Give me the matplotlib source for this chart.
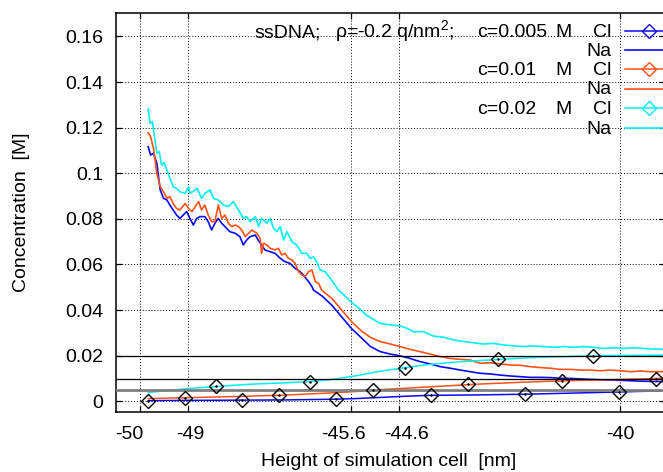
import matplotlib
matplotlib.use("Agg")
import matplotlib.pyplot as plt
from matplotlib.lines import Line2D
from matplotlib.transforms import ScaledTranslation

plt.rcParams['font.family'] = ['Liberation Sans', 'DejaVu Sans']
plt.rcParams['mathtext.fontset'] = 'custom'
plt.rcParams['mathtext.rm'] = 'Liberation Sans'
plt.rcParams['mathtext.it'] = 'Liberation Sans:italic'

# ---------------- data ----------------
x_ticks = [-50, -49, -45.6, -44.6, -40]
x_tick_labels = ['-50', '-49', '-45.6', '-44.6', '-40']
y_ticks = [0, 0.02, 0.04, 0.06, 0.08, 0.10, 0.12, 0.14, 0.16]
y_tick_labels = ['0', '0.02', '0.04', '0.06', '0.08', '0.1', '0.12', '0.14', '0.16']
bulk_conc = [0.005, 0.01, 0.02]
conc_labels = ['c=0.005', 'c=0.01', 'c=0.02']

na_005_x = [-49.83, -49.78, -49.72, -49.65, -49.58, -49.51, -49.44, -49.38, -49.31, -49.24,
            -49.17, -49.10, -49.03, -48.96, -48.89, -48.82, -48.75, -48.65, -48.58, -48.51,
            -48.44, -48.37, -48.30, -48.23, -48.13, -48.02, -47.92, -47.85, -47.78, -47.71,
            -47.60, -47.54, -47.47, -47.40, -47.29, -47.19, -47.08, -46.98, -46.88, -46.77,
            -46.67, -46.60, -46.49, -46.42, -46.39,
            -46.2, -46.0, -45.8, -45.6, -45.4, -45.2,
            -45.0, -44.79, -44.58, -44.38, -44.17, -43.96, -43.75, -43.54, -43.33, -43.13,
            -42.92, -42.71, -42.5, -42.29, -42.08, -41.88, -41.67, -41.46, -41.25,
            -41.0, -40.5, -40.0, -39.5, -39.06]
na_005 = [0.1117, 0.1080, 0.1088, 0.1044, 0.0927, 0.0890, 0.0883, 0.0861, 0.0839, 0.0817,
          0.0802, 0.0817, 0.0832, 0.0802, 0.0773, 0.0802, 0.0810, 0.0810, 0.0788, 0.0751,
          0.0781, 0.0802, 0.0781, 0.0766, 0.0744, 0.0737, 0.0722, 0.0686, 0.0707, 0.0722,
          0.0729, 0.0707, 0.0686, 0.0664, 0.0656, 0.0649, 0.0627, 0.0612, 0.0605, 0.0583,
          0.0569, 0.0554, 0.0525, 0.0503, 0.0488,
          0.046, 0.042, 0.037, 0.032, 0.028, 0.024,
          0.0218, 0.0207, 0.0199, 0.0188, 0.0174, 0.0164, 0.0152, 0.0145, 0.0137, 0.0130,
          0.0123, 0.0120, 0.0115, 0.0111, 0.0108, 0.0105, 0.0105, 0.0104, 0.0101,
          0.0100, 0.0095, 0.0092, 0.0088, 0.0086]

na_01_x = [-49.83, -49.78, -49.72, -49.65, -49.58, -49.51, -49.44, -49.38, -49.31, -49.24,
           -49.17, -49.06, -48.99, -48.92, -48.85, -48.78, -48.72, -48.65, -48.58, -48.51,
           -48.44, -48.37, -48.30, -48.23, -48.16, -48.09, -48.02, -47.95, -47.88, -47.81,
           -47.74, -47.67, -47.57, -47.50, -47.47, -47.43, -47.36, -47.29, -47.19, -47.12,
           -47.05, -46.98, -46.91, -46.84, -46.77, -46.70, -46.63, -46.56, -46.49, -46.42,
           -46.35, -46.28, -46.22,
           -46.0, -45.8, -45.6, -45.4, -45.2,
           -45.0, -44.79, -44.58, -44.38, -44.17, -43.96, -43.75, -43.54, -43.33, -43.13,
           -42.92, -42.71, -42.5, -42.29, -42.08, -41.88, -41.67, -41.46, -41.25, -41.04,
           -40.83, -40.63, -40.42, -40.21, -40.0, -39.79, -39.58, -39.38, -39.10]
na_01 = [0.1178, 0.1161, 0.1110, 0.1000, 0.0941, 0.0919, 0.0890, 0.0898, 0.0868, 0.0846,
         0.0839, 0.0868, 0.0846, 0.0832, 0.0854, 0.0876, 0.0839, 0.0861, 0.0817, 0.0788,
         0.0788, 0.0861, 0.0802, 0.0817, 0.0781, 0.0766, 0.0773, 0.0766, 0.0751, 0.0722,
         0.0737, 0.0751, 0.0737, 0.0715, 0.0649, 0.0693, 0.0686, 0.0671, 0.0664, 0.0671,
         0.0642, 0.0649, 0.0627, 0.0620, 0.0605, 0.0569, 0.0554, 0.0547, 0.0569, 0.0576,
         0.0525, 0.0517, 0.0488,
         0.045, 0.040, 0.035, 0.031, 0.028,
         0.0262, 0.0251, 0.0240, 0.0228, 0.0218, 0.0207, 0.0196, 0.0188, 0.0184, 0.0181,
         0.0167, 0.0169, 0.0164, 0.0159, 0.0158, 0.0152, 0.0148, 0.0145, 0.0140, 0.0140,
         0.0137, 0.0137, 0.0134, 0.0137, 0.0134, 0.0130, 0.0133, 0.0130, 0.0130]

na_02_x = [-49.83, -49.79, -49.74, -49.70, -49.65, -49.60, -49.55, -49.50, -49.44, -49.39,
           -49.31, -49.24, -49.17, -49.06, -48.99, -48.96, -48.85, -48.81, -48.72, -48.65,
           -48.54, -48.47, -48.37, -48.26, -48.16, -48.06, -47.95, -47.85, -47.78, -47.71,
           -47.60, -47.53, -47.47, -47.36, -47.29, -47.22, -47.15, -47.08, -47.01, -46.94,
           -46.84, -46.74, -46.63, -46.53, -46.46, -46.39, -46.32, -46.25, -46.15, -46.04,
           -45.94, -45.87,
           -45.75, -45.6, -45.45, -45.3, -45.15,
           -45.0, -44.79, -44.58, -44.44, -44.31, -44.10, -43.89, -43.68, -43.47, -43.26,
           -43.06, -42.85, -42.64, -42.43, -42.22, -42.01, -41.81, -41.60, -41.39, -41.18,
           -40.97, -40.76, -40.56, -40.35, -40.14, -39.93, -39.72, -39.51, -39.31, -39.10]
na_02 = [0.1281, 0.1219, 0.1226, 0.1161, 0.1088, 0.1095, 0.1036, 0.1047, 0.1014, 0.0985,
         0.0941, 0.0934, 0.0919, 0.0912, 0.0941, 0.0912, 0.0927, 0.0934, 0.0890, 0.0912,
         0.0927, 0.0890, 0.0883, 0.0861, 0.0854, 0.0876, 0.0839, 0.0802, 0.0810, 0.0788,
         0.0810, 0.0766, 0.0802, 0.0781, 0.0802, 0.0759, 0.0744, 0.0766, 0.0707, 0.0744,
         0.0700, 0.0686, 0.0649, 0.0649, 0.0627, 0.0634, 0.0612, 0.0576, 0.0569, 0.0539,
         0.0510, 0.0488,
         0.0465, 0.0435, 0.041, 0.038, 0.036,
         0.0342, 0.0335, 0.0330, 0.0320, 0.0305, 0.0305, 0.0286, 0.0281, 0.0269, 0.0262,
         0.0257, 0.0251, 0.0254, 0.0247, 0.0243, 0.0240, 0.0243, 0.0240, 0.0237, 0.0240,
         0.0237, 0.0240, 0.0237, 0.0232, 0.0235, 0.0232, 0.0235, 0.0232, 0.0229, 0.0228]

cl_005_x = [-49.83, -49.0, -48.0, -47.0, -46.0, -45.5, -45.0, -44.5, -44.0, -43.0, -42.0,
            -41.0, -40.0, -39.5, -39.06]
cl_005 = [0.0003, 0.0004, 0.0005, 0.0006, 0.0009, 0.0012, 0.0017, 0.0022, 0.0026, 0.0028,
          0.0031, 0.0036, 0.0041, 0.0044, 0.0046]
cl_01_x = [-49.83, -49.0, -48.0, -47.0, -46.0, -45.5, -45.0, -44.0, -43.0, -42.0, -41.0,
           -40.0, -39.06]
cl_01 = [0.0012, 0.0016, 0.0021, 0.0027, 0.0037, 0.0043, 0.0051, 0.0063, 0.0075, 0.0084,
         0.0091, 0.0096, 0.0101]
cl_02_x = [-49.83, -49.5, -49.0, -48.4, -48.0, -47.5, -47.0, -46.5, -46.0, -45.5, -45.0,
           -44.5, -44.0, -43.5, -43.0, -42.5, -42.0, -41.5, -41.0, -40.5, -40.0, -39.5, -39.06]
cl_02 = [0.0038, 0.0046, 0.0056, 0.0065, 0.0071, 0.0077, 0.0081, 0.0086, 0.0096, 0.0112,
         0.0132, 0.0147, 0.0161, 0.0171, 0.0178, 0.0184, 0.0190, 0.0194, 0.0197, 0.0200,
         0.0201, 0.0202, 0.0203]

mark_005_x = [-49.83, -47.87, -45.91, -43.95, -41.98, -40.02]
mark_005 = [0.0003, 0.0005, 0.0009, 0.0026, 0.0031, 0.0041]
mark_01_x = [-49.06, -47.10, -45.14, -43.18, -41.22, -39.26]
mark_01 = [0.0016, 0.0026, 0.0049, 0.0074, 0.0090, 0.0100]
mark_02_x = [-48.42, -46.46, -44.49, -42.54, -40.57]
mark_02 = [0.0066, 0.0085, 0.0147, 0.0184, 0.0200]

# ---------------- style ----------------
W, H = 663, 472
FS = 14
BLUE = '#0a0af0'
ORANGE = '#ff5214'
CYAN = '#00f2f2'
colors = [BLUE, ORANGE, CYAN]

fig = plt.figure(figsize=(W / 100, H / 100), dpi=100)
L, R, T, B = 116, 665, 13, 411.7
ax = fig.add_axes([L / W, 1 - B / H, (R - L) / W, (B - T) / H])
ax.set_xlim(-50.5, -39.07)
ax.set_ylim(-0.00456, 0.1703)

na_sets = [(na_005_x, na_005), (na_01_x, na_01), (na_02_x, na_02)]
cl_sets = [(cl_005_x, cl_005), (cl_01_x, cl_01), (cl_02_x, cl_02)]
mark_sets = [(mark_005_x, mark_005), (mark_01_x, mark_01), (mark_02_x, mark_02)]

for (cx, cy), (nx, ny), col in zip(cl_sets, na_sets, colors):
    ax.plot(cx, cy, color=col, lw=1.1, zorder=3)
    ax.plot(nx, ny, color=col, lw=1.2, zorder=3)
for (mx, my) in mark_sets:
    ax.plot(mx, my, ls='none', marker='D', ms=7, mfc='none', mec='black', mew=1.0, zorder=5)
    ax.plot(mx, my, ls='none', marker='.', ms=1.5, color='black', zorder=5)

ax.axhline(bulk_conc[0], color='#808080', lw=2.0, zorder=4)
ax.axhline(bulk_conc[1], color='black', lw=0.9, zorder=4)
ax.axhline(bulk_conc[2], color='black', lw=0.9, zorder=4)

ax.set_xticks(x_ticks)
ax.set_xticklabels(x_tick_labels)
ax.set_yticks(y_ticks)
ax.set_yticklabels(y_tick_labels)
ax.tick_params(direction='in', length=4.5, width=0.9, top=True, right=True,
               labelsize=FS, colors='black')
ax.tick_params(axis='x', pad=10)
ax.tick_params(axis='y', pad=9)
ax.grid(True, color='black', linestyle=(0, (1, 2)), lw=0.7, zorder=1)
for s in ax.spines.values():
    s.set_linewidth(1.1)

# small horizontal nudges of the tick labels as in the original
label_shift_px = [-11, 2, -8, 7, 0]
for lab, dx in zip(ax.get_xticklabels(), label_shift_px):
    lab.set_transform(lab.get_transform() + ScaledTranslation(dx / 100, 0, fig.dpi_scale_trans))

def P(x, y):
    return (x / W, 1 - y / H)

fig.text(*P(22, 212), 'Concentration  [M]', rotation=90, ha='center', va='center', fontsize=FS)
fig.text(*P(389, 461), 'Height of simulation cell  [nm]', ha='center', va='center', fontsize=FS)

# key
row_y = [32.5, 51, 71, 89.5, 109.5, 129]
fig.text(*P(254, row_y[0]), 'ssDNA;', ha='left', va='center', fontsize=FS)
fig.text(*P(335, row_y[0] - 1), r'ρ=-0.2 q/nm$^2$;', ha='left', va='center', fontsize=FS)
for i, (lab, col) in enumerate(zip(conc_labels, colors)):
    yc = row_y[2 * i]
    yn = row_y[2 * i + 1]
    fig.text(*P(477, yc), lab, ha='left', va='center', fontsize=FS)
    fig.text(*P(555, yc), 'M', ha='left', va='center', fontsize=FS)
    fig.text(*P(611, yc), 'Cl', ha='right', va='center', fontsize=FS)
    fig.text(*P(611, yn), 'Na', ha='right', va='center', fontsize=FS)
    x0, y0 = P(625, yc - 2)
    x1, _ = P(680, yc - 2)
    fig.add_artist(Line2D([x0, x1], [y0, y0], color=col, lw=1.1, transform=fig.transFigure))
    xm, _ = P(649, yc - 2)
    fig.add_artist(Line2D([xm], [y0], ls='none', marker='D', ms=7, mfc='none', mec=col,
                          mew=1.0, transform=fig.transFigure))
    x0, y0 = P(625, yn - 1)
    fig.add_artist(Line2D([x0, x1], [y0, y0], color=col, lw=1.2, transform=fig.transFigure))

fig.savefig('out.png', dpi=100)
